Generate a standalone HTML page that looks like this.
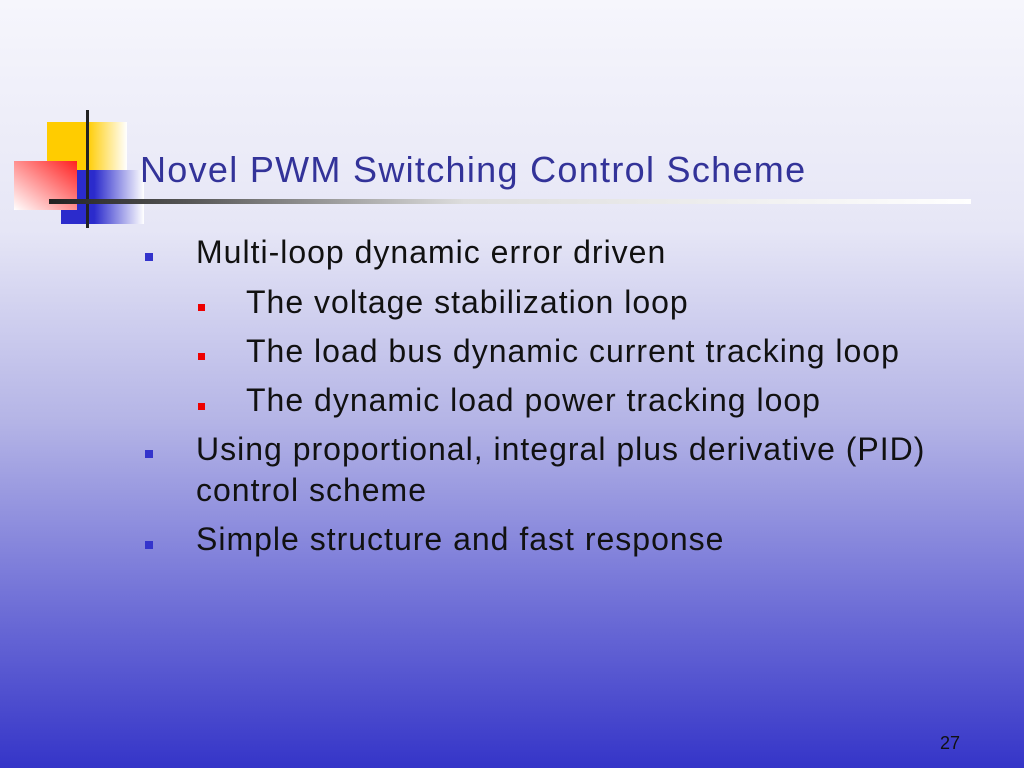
<!DOCTYPE html>
<html><head><meta charset="utf-8"><style>
body{margin:0;width:1024px;height:768px;overflow:hidden;position:relative;
background:linear-gradient(to bottom,#f6f6fc 0%,#e6e6f6 30%,#b4b4e6 55%,#6c6cd6 80%,#3535c8 100%);
font-family:"Liberation Sans",sans-serif;}
.a{position:absolute}
.t{position:absolute;white-space:nowrap;font-size:32px;letter-spacing:1px;color:#111}
.b1{position:absolute;width:8px;height:8px;background:#3333cc}
.b2{position:absolute;width:7px;height:7px;background:#ee0000}
</style></head><body>
<div class="a" style="left:47px;top:122px;width:80px;height:48px;background:linear-gradient(to right,#ffcc00 50%,#fff 100%)"></div>
<div class="a" style="left:61px;top:170px;width:83px;height:54px;background:linear-gradient(to right,#2b2bcc 40%,#fff 100%)"></div>
<div class="a" style="left:14px;top:161px;width:63px;height:49px;background:linear-gradient(to bottom left,#ff2020 0%,#ff9090 50%,#fff 100%)"></div>
<div class="a" style="left:86px;top:110px;width:3px;height:118px;background:#222"></div>
<div class="a" style="left:49px;top:199px;width:922px;height:5px;background:linear-gradient(to right,#222 0%,#555 15%,#ddd 45%,#fff 100%)"></div>
<div class="t" style="left:140px;top:149px;font-size:36px;letter-spacing:1.3px;color:#333399">Novel PWM Switching Control Scheme</div>
<div class="b1" style="left:145px;top:253px"></div>
<div class="t" style="left:196px;top:234px">Multi-loop dynamic error driven</div>
<div class="b2" style="left:198px;top:304px"></div>
<div class="t" style="left:246px;top:284px">The voltage stabilization loop</div>
<div class="b2" style="left:198px;top:353px"></div>
<div class="t" style="left:246px;top:333px">The load bus dynamic current tracking loop</div>
<div class="b2" style="left:198px;top:403px"></div>
<div class="t" style="left:246px;top:382px">The dynamic load power tracking loop</div>
<div class="b1" style="left:145px;top:450px"></div>
<div class="t" style="left:196px;top:431px">Using proportional, integral plus derivative (PID)</div>
<div class="t" style="left:196px;top:472px">control scheme</div>
<div class="b1" style="left:145px;top:541px"></div>
<div class="t" style="left:196px;top:521px">Simple structure and fast response</div>
<div class="t" style="left:940px;top:733px;font-size:18px;letter-spacing:0">27</div>
</body></html>
